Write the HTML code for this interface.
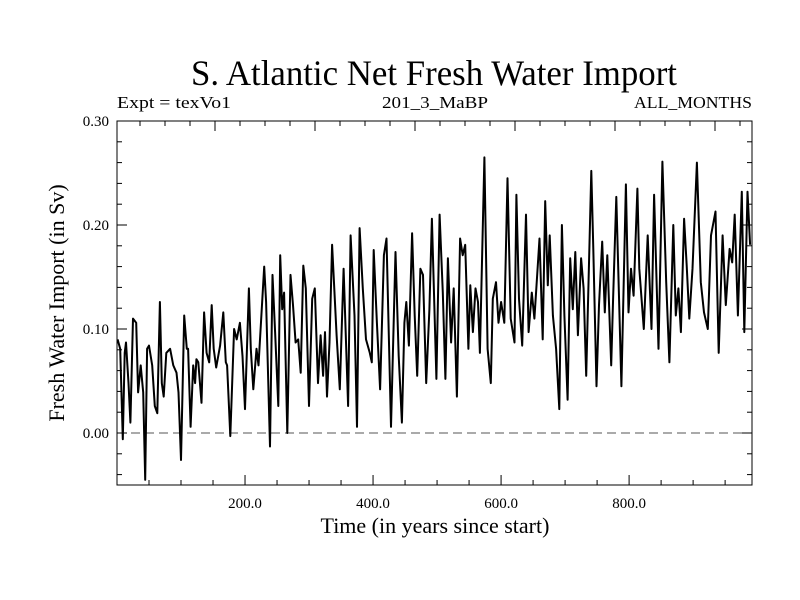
<!DOCTYPE html>
<html><head><meta charset="utf-8"><style>
html,body{margin:0;padding:0;background:#fff;}
svg{display:block;font-family:"Liberation Serif",serif;}
</style></head><body>
<svg id="chart" width="800" height="600">
<text x="434" y="85" font-size="36" text-anchor="middle" textLength="486" lengthAdjust="spacingAndGlyphs">S. Atlantic Net Fresh Water Import</text>
<text x="117" y="108" font-size="17" textLength="114" lengthAdjust="spacingAndGlyphs">Expt = texVo1</text>
<text x="435" y="108" font-size="17" text-anchor="middle" textLength="106" lengthAdjust="spacingAndGlyphs">201_3_MaBP</text>
<text x="752" y="108" font-size="17" text-anchor="end" textLength="118" lengthAdjust="spacingAndGlyphs">ALL_MONTHS</text>
<text x="435" y="533" font-size="22" text-anchor="middle">Time (in years since start)</text>
<text transform="translate(64,303) rotate(-90)" font-size="22" text-anchor="middle">Fresh Water Import (in Sv)</text>
<g id="axes"></g>
<g id="series"></g>
</svg>
<script>
const years=[1,5,9,12,14,18,21,25,30,33,37,41,44,47,50,55,59,63,67,70,73,77,83,88,93,96,100,105,109,111,115,119,122,124,127,132,136,140,144,148,151,155,161,166,170,172,177,183,187,192,196,200,206,209,213,218,221,230,233,239,
243,247,252,255,258,261,266,271,275,279,283,287,291,295,300,305,309,314,318,322,325,328,332,336,343,348,354,361,365,371,375,379,384,389,395,398,401,406,411,417,421,428,435,440,445,449,452,456,461,465,469,474,478,483,488,492,
499,504,509,513,517,522,526,531,536,540,544,549,552,556,560,564,567,574,579,584,587,592,596,600,605,610,615,621,624,628,633,639,643,648,652,660,665,669,673,676,681,686,691,695,699,704,708,712,716,720,725,729,733,741,
744,749,753,758,762,766,772,775,780,788,795,799,803,807,813,816,823,829,835,839,846,852,858,863,869,873,877,881,886,890,894,899,906,912,917,923,928,935,940,946,951,957,961,965,970,976,980,985,989];
const values=[0.090,0.081,-0.006,0.077,0.087,0.048,0.010,0.110,0.106,0.039,0.065,0.039,-0.045,0.081,0.084,0.065,0.026,0.019,0.126,0.048,0.035,0.077,0.081,0.065,0.058,0.039,-0.026,0.113,0.081,0.081,0.006,0.065,0.048,0.071,0.068,0.029,0.116,0.077,0.068,0.123,0.081,0.063,0.084,0.116,0.068,0.065,-0.003,0.100,0.090,0.106,0.074,0.023,0.139,0.081,0.042,0.081,0.065,0.160,0.126,-0.013,
0.152,0.097,0.026,0.171,0.119,0.135,0.000,0.152,0.123,0.087,0.090,0.058,0.161,0.139,0.026,0.129,0.139,0.048,0.094,0.055,0.097,0.035,0.087,0.181,0.094,0.042,0.158,0.026,0.190,0.113,0.006,0.197,0.139,0.090,0.077,0.068,0.176,0.106,0.042,0.171,0.187,0.006,0.174,0.074,0.010,0.106,0.126,0.084,0.192,0.113,0.055,0.158,0.152,0.048,0.119,0.206,
0.052,0.210,0.135,0.052,0.168,0.087,0.139,0.035,0.187,0.171,0.181,0.081,0.142,0.097,0.139,0.126,0.077,0.265,0.081,0.048,0.129,0.145,0.106,0.126,0.106,0.245,0.110,0.087,0.229,0.129,0.084,0.210,0.097,0.135,0.110,0.187,0.090,0.223,0.142,0.190,0.113,0.081,0.023,0.200,0.113,0.032,0.168,0.119,0.174,0.094,0.168,0.139,0.055,0.252,
0.177,0.045,0.123,0.184,0.116,0.171,0.065,0.129,0.227,0.045,0.239,0.116,0.158,0.132,0.235,0.158,0.100,0.190,0.100,0.229,0.081,0.261,0.145,0.068,0.200,0.113,0.139,0.097,0.206,0.161,0.110,0.158,0.260,0.145,0.116,0.100,0.190,0.213,0.077,0.190,0.123,0.177,0.164,0.210,0.113,0.232,0.097,0.232,0.181];
const yTickValues=[0.00,0.10,0.20,0.30];
const yTickLabels=["0.00","0.10","0.20","0.30"];
const xTickValues=[200,400,600,800];
const xTickLabels=["200.0","400.0","600.0","800.0"];

const NS="http://www.w3.org/2000/svg";
const L=117,R=752,T=121,B=485;
const X0=0,X1=992,Y0=-0.05,Y1=0.30;
function sx(v){return L+(v-X0)/(X1-X0)*(R-L);}
function sy(v){return B-(v-Y0)/(Y1-Y0)*(B-T);}
const axes=document.getElementById('axes');
function mk(tag,attrs,parent){const e=document.createElementNS(NS,tag);for(const k in attrs)e.setAttribute(k,attrs[k]);parent.appendChild(e);return e;}
function line(x1,y1,x2,y2,stroke,w,parent){return mk('line',{x1:x1,y1:y1,x2:x2,y2:y2,stroke:stroke,'stroke-width':w},parent);}

const frame=mk('rect',{x:L,y:T,width:R-L,height:B-T,fill:'none',stroke:'#000','stroke-width':1},axes);



const zl=line(L,sy(0),R,sy(0),'#555',1,axes);
zl.setAttribute('stroke-dasharray','9,5');



// y ticks (minor every 0.02, major every 0.1)
for(let i=-2;i<=15;i++){
  const v=i*0.02,y=sy(v);
  if(y<T-0.5||y>B+0.5)continue;
  const major=(i%5===0);
  const len=major?10:5;
  const t1=line(L,y,L+len,y,'#000',1,axes);
  
  
  const t2=line(R-len,y,R,y,'#000',1,axes);
  
  
}
yTickValues.forEach((v,i)=>{
  const t=mk('text',{x:L-8,y:sy(v)+5,'font-size':15,'text-anchor':'end'},axes);
  t.textContent=yTickLabels[i];
  
  
});
// bottom x ticks every 50
for(let v=50;v<X1;v+=50){
  const x=sx(v),major=(v%200===0);
  const t=line(x,B,x,B-(major?10:5),'#000',1,axes);
  
  
}
// top ticks every 25px, major every 100px
for(let k=1;k*25+L<R;k++){
  const x=L+k*25-2,major=(k%4===0);
  const t=line(x,T,x,T+(major?10:5),'#000',1,axes);
  
  
}
xTickValues.forEach((v,i)=>{
  const t=mk('text',{x:sx(v),y:508,'font-size':15,'text-anchor':'middle'},axes);
  t.textContent=xTickLabels[i];
  
  
});
// series
const ser=document.getElementById('series');
let d='';
years.forEach((yr,i)=>{d+=(i?'L':'M')+sx(yr).toFixed(1)+','+sy(values[i]).toFixed(1);});
const p=mk('path',{d:d,fill:'none',stroke:'#000','stroke-width':2,'stroke-linejoin':'round'},ser);


</script>
</body></html>
